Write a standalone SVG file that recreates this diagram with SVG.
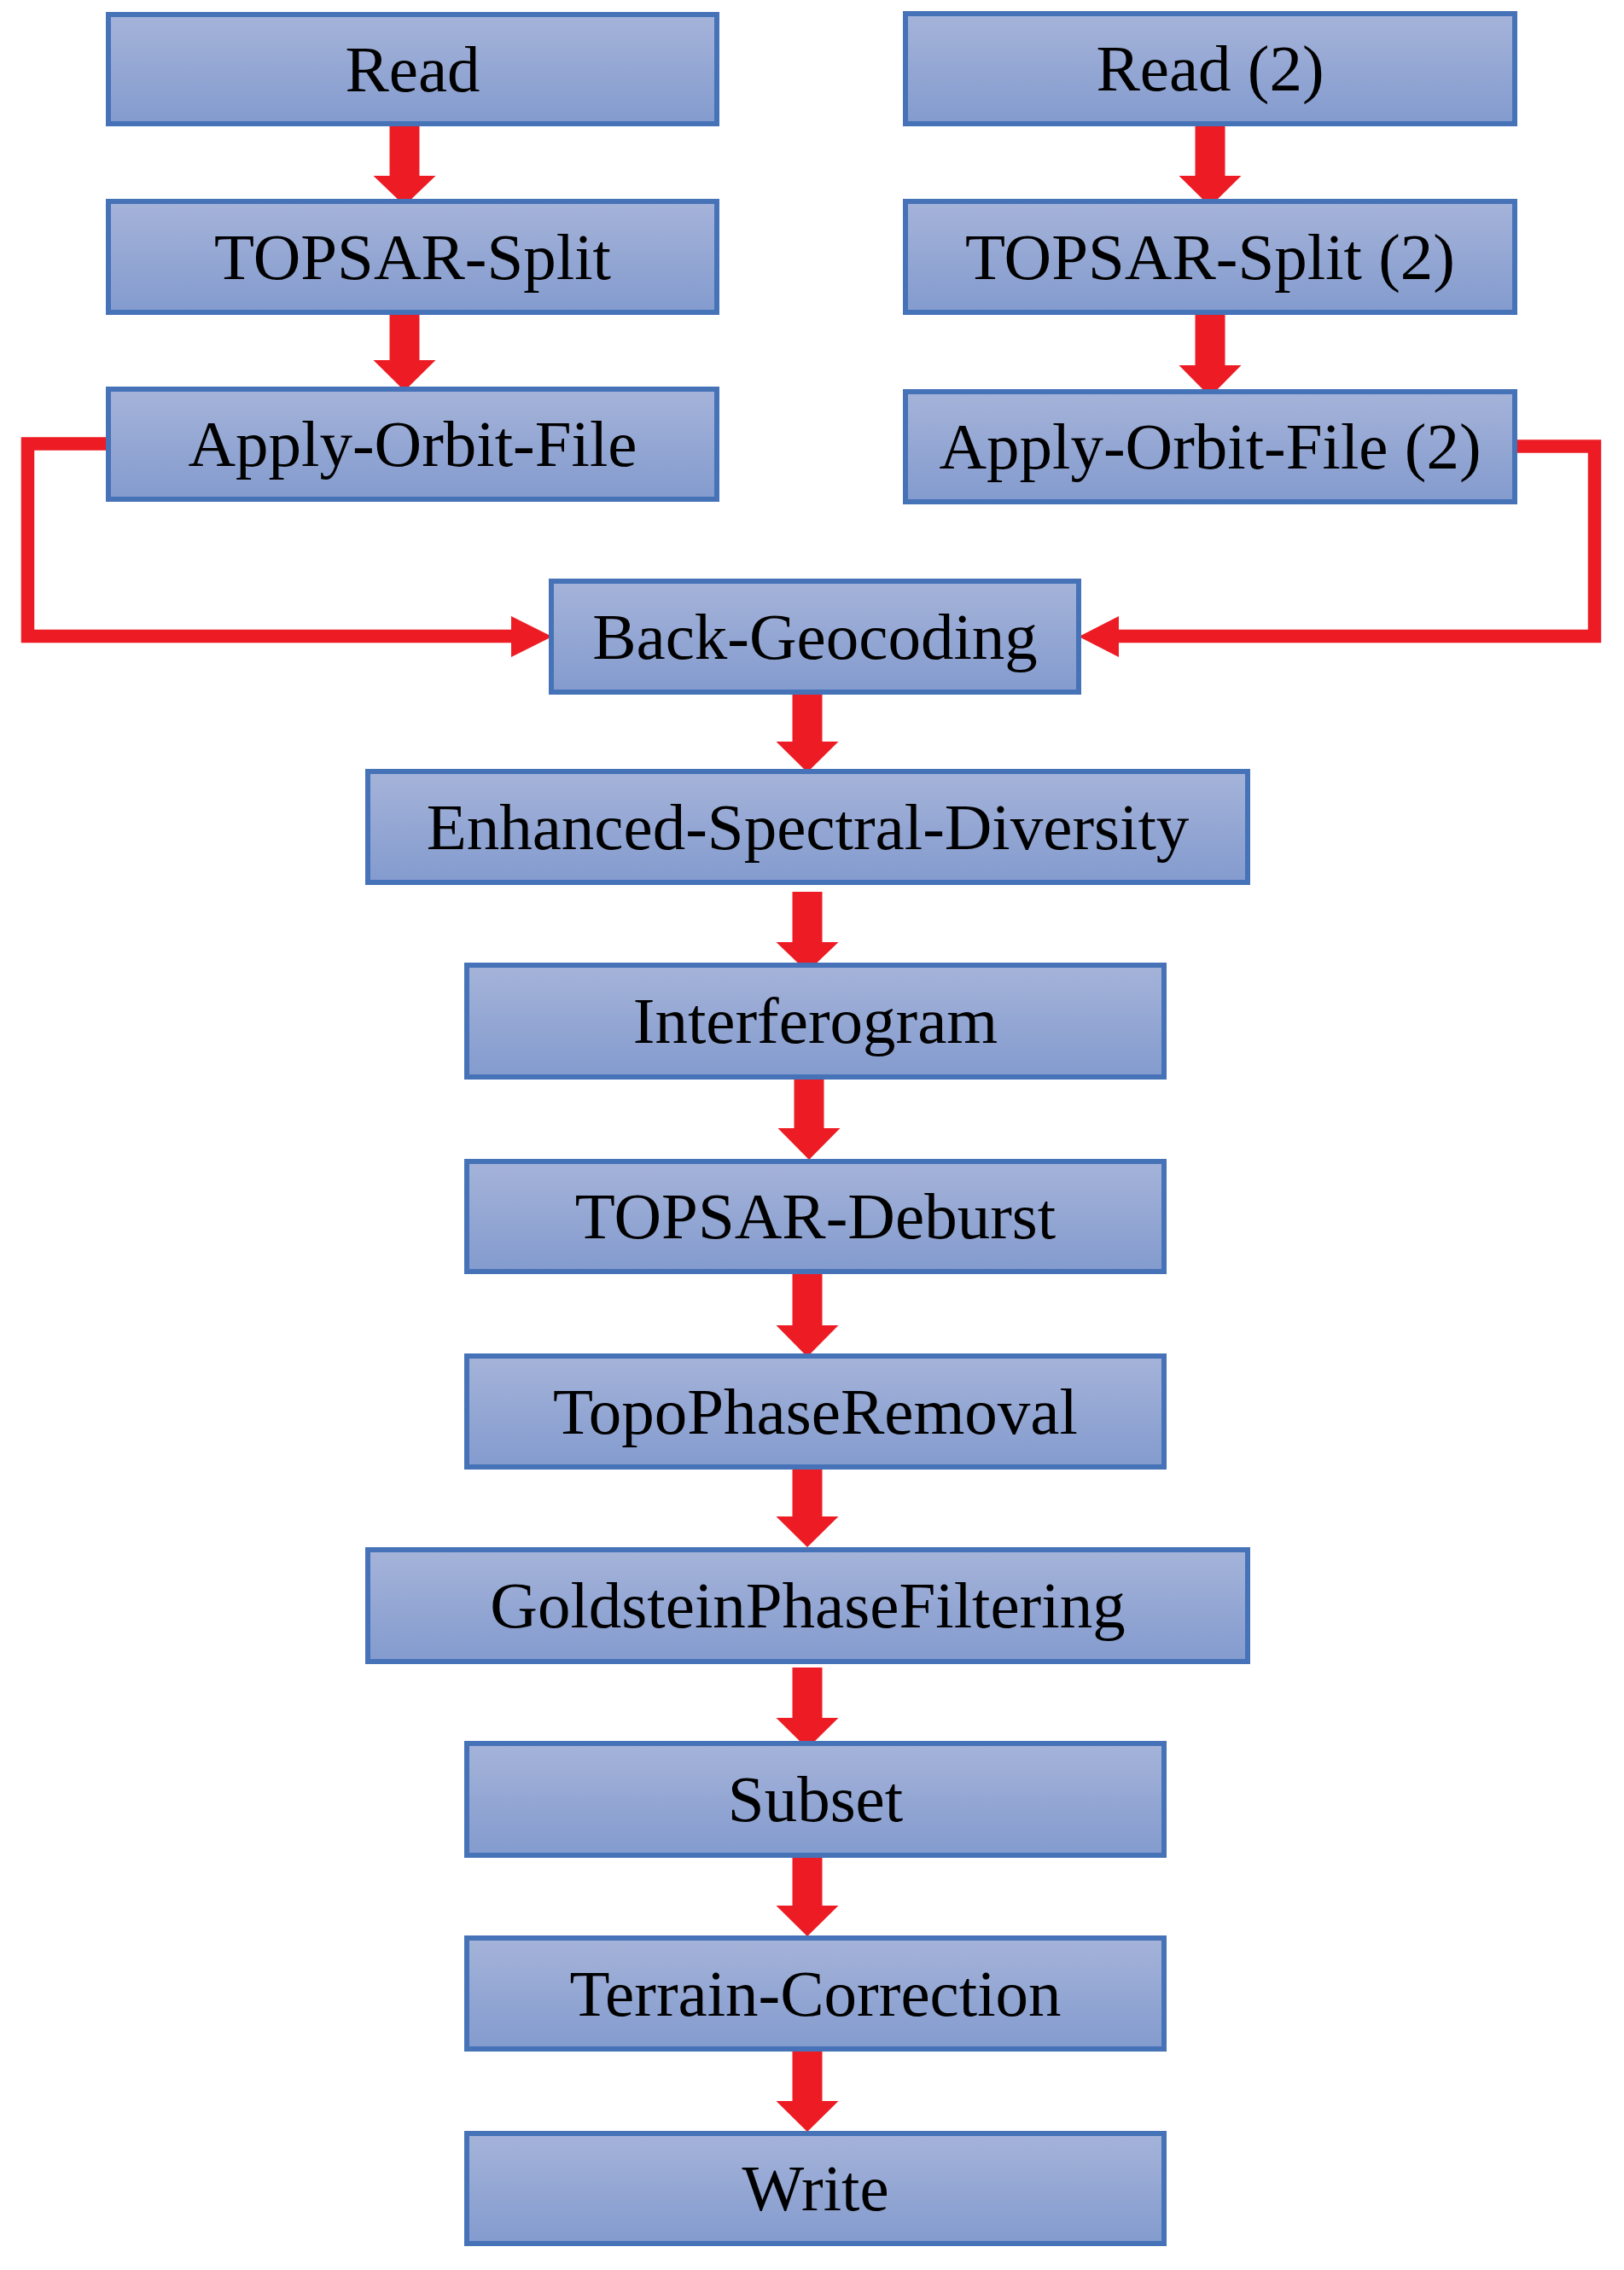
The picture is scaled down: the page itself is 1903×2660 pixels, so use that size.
<svg xmlns="http://www.w3.org/2000/svg" width="1903" height="2660" viewBox="0 0 1903 2660">
<style>
.box{fill:url(#g);stroke:#4672b8;stroke-width:6}
.lbl{font-family:"Liberation Serif","Times New Roman",serif;font-size:77px;fill:#000;text-anchor:middle}
.arr{fill:#ed1c24}
.ln{fill:none;stroke:#ed1c24;stroke-width:15.5;stroke-linejoin:miter}
</style>
<defs>
<linearGradient id="g" x1="0" y1="0" x2="0" y2="1">
<stop offset="0" stop-color="#a5b3d9"/>
<stop offset="1" stop-color="#839bce"/>
</linearGradient>
</defs>
<rect width="1903" height="2660" fill="#fff"/>
<g id="connectors">
<polyline class="ln" points="124,520 32.5,520 32.5,745.5 602,745.5"/>
<polygon class="arr" points="599,722 647,746 599,770"/>
<polyline class="ln" points="1778,523 1868.5,523 1868.5,745.5 1308,745.5"/>
<polygon class="arr" points="1311,722 1264,746 1311,770"/>
<polygon class="arr" points="456.5,143 491.5,143 491.5,206 510.5,206 474,241 437.5,206 456.5,206"/>
<polygon class="arr" points="456.5,363 491.5,363 491.5,422 510.5,422 474,458 437.5,422 456.5,422"/>
<polygon class="arr" points="1400.5,143 1435.5,143 1435.5,206 1454.5,206 1418,242 1381.5,206 1400.5,206"/>
<polygon class="arr" points="1400.5,368 1435.5,368 1435.5,428 1454.5,428 1418,465 1381.5,428 1400.5,428"/>
<polygon class="arr" points="928.5,810 963.5,810 963.5,869 982.5,869 946,905 909.5,869 928.5,869"/>
<polygon class="arr" points="928.5,1045 963.5,1045 963.5,1104 982.5,1104 946,1139 909.5,1104 928.5,1104"/>
<polygon class="arr" points="930.5,1263 965.5,1263 965.5,1322 984.5,1322 948,1359 911.5,1322 930.5,1322"/>
<polygon class="arr" points="928.5,1491 963.5,1491 963.5,1553 982.5,1553 946,1590 909.5,1553 928.5,1553"/>
<polygon class="arr" points="928.5,1718 963.5,1718 963.5,1777 982.5,1777 946,1813 909.5,1777 928.5,1777"/>
<polygon class="arr" points="928.5,1954 963.5,1954 963.5,2013 982.5,2013 946,2049 909.5,2013 928.5,2013"/>
<polygon class="arr" points="928.5,2174 963.5,2174 963.5,2233 982.5,2233 946,2269 909.5,2233 928.5,2233"/>
<polygon class="arr" points="928.5,2403 963.5,2403 963.5,2462 982.5,2462 946,2498 909.5,2462 928.5,2462"/>
</g>
<g id="read"><rect class="box" x="127" y="17" width="713" height="128"/><text class="lbl" x="483.5" y="107">Read</text></g>
<g id="topsar-split"><rect class="box" x="127" y="236" width="713" height="130"/><text class="lbl" x="483.5" y="327">TOPSAR-Split</text></g>
<g id="apply-orbit-file"><rect class="box" x="127" y="456" width="713" height="129"/><text class="lbl" x="483.5" y="546">Apply-Orbit-File</text></g>
<g id="read2"><rect class="box" x="1061" y="16" width="714" height="129"/><text class="lbl" x="1418" y="106">Read (2)</text></g>
<g id="topsar-split2"><rect class="box" x="1061" y="236" width="714" height="130"/><text class="lbl" x="1418" y="327">TOPSAR-Split (2)</text></g>
<g id="apply-orbit-file2"><rect class="box" x="1061" y="459" width="714" height="129"/><text class="lbl" x="1418" y="549">Apply-Orbit-File (2)</text></g>
<g id="back-geocoding"><rect class="box" x="646" y="681" width="618" height="130"/><text class="lbl" x="955" y="772">Back-Geocoding</text></g>
<g id="esd"><rect class="box" x="431" y="904" width="1031" height="130"/><text class="lbl" x="946.5" y="995">Enhanced-Spectral-Diversity</text></g>
<g id="interferogram"><rect class="box" x="547" y="1131" width="817" height="131"/><text class="lbl" x="955.5" y="1222">Interferogram</text></g>
<g id="deburst"><rect class="box" x="547" y="1361" width="817" height="129"/><text class="lbl" x="955.5" y="1451">TOPSAR-Deburst</text></g>
<g id="topophase"><rect class="box" x="547" y="1589" width="817" height="130"/><text class="lbl" x="955.5" y="1680">TopoPhaseRemoval</text></g>
<g id="goldstein"><rect class="box" x="431" y="1816" width="1031" height="131"/><text class="lbl" x="946.5" y="1907">GoldsteinPhaseFiltering</text></g>
<g id="subset"><rect class="box" x="547" y="2043" width="817" height="131"/><text class="lbl" x="955.5" y="2134">Subset</text></g>
<g id="terrain-correction"><rect class="box" x="547" y="2271" width="817" height="130"/><text class="lbl" x="955.5" y="2362">Terrain-Correction</text></g>
<g id="write"><rect class="box" x="547" y="2500" width="817" height="129"/><text class="lbl" x="955.5" y="2590">Write</text></g>
</svg>
